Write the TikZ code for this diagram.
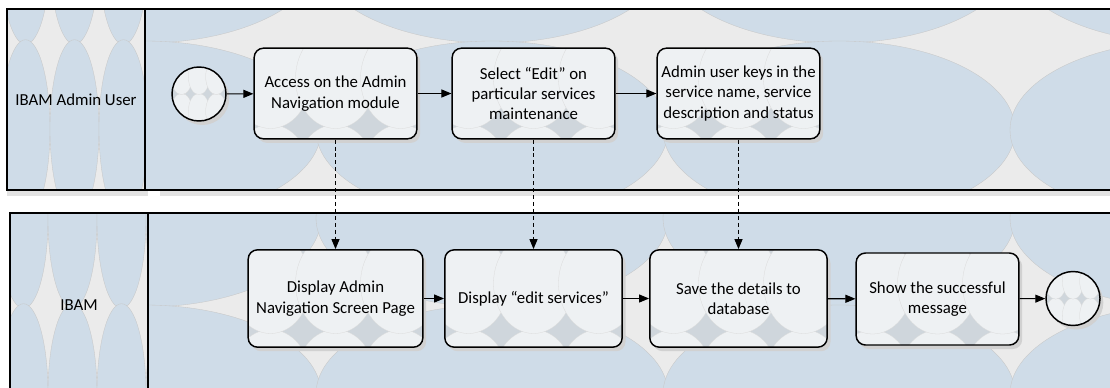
\documentclass[tikz,border=0pt]{standalone}
\usepackage{fontspec}
\setmainfont{Carlito}
\usetikzlibrary{arrows.meta,shadows,positioning}
\definecolor{laneblue}{RGB}{207,220,232}
\definecolor{lanegray}{RGB}{235,235,235}
\definecolor{laneshadow}{RGB}{226,226,226}
\definecolor{boxwhite}{RGB}{238,241,243}
\definecolor{boxstar}{RGB}{207,214,220}
\tikzset {
  >={Triangle[length=7.5pt,width=6pt]},
  every node/.style={font=\fontsize{12.6}{15.2}\selectfont},
  lane/.style={draw=black,line width=1.1pt},
  bgell/.style={fill=laneblue,draw=black!22,line width=0.25pt},
  boxpat/.style={path picture={
    \fill[boxstar] (path picture bounding box.south west) rectangle (path picture bounding box.north east);
    \foreach \k in {-3,...,3}
      \foreach \r in {-1,0,1}
        \filldraw[fill=boxwhite,draw=black!15,line width=0.2pt]
          ([xshift={\k*48.75pt},yshift={\r*72pt+11.25pt}]path picture bounding box.center)
          ellipse[x radius=30pt,y radius=37.5pt];
  }},
  eventpat/.style={path picture={
    \fill[boxstar] (path picture bounding box.south west) rectangle (path picture bounding box.north east);
    \foreach \k in {-2,...,2}
      \foreach \r in {-1,0,1}
        \filldraw[fill=boxwhite,draw=black!15,line width=0.2pt]
          ([xshift={\k*13pt},yshift={\r*26pt+13pt}]path picture bounding box.center)
          ellipse[x radius=8pt,y radius=13.5pt];
  }},
  boxshadow/.style={drop shadow={shadow xshift=2.5pt,shadow yshift=-3pt,fill=black!18,opacity=1}},
  task/.style={boxpat,boxshadow,draw,line width=1.1pt,rounded corners=7pt,align=center,
    minimum width=122pt,minimum height=68pt,inner sep=2pt},
  event/.style={circle,eventpat,boxshadow,draw,line width=1.1pt,minimum size=40.5pt,inner sep=0pt},
  flow/.style={->,line width=0.8pt},
  msg/.style={->,line width=0.9pt,dash pattern=on 3pt off 2.2pt},
}

\begin{document}
\begin{tikzpicture}[x=0.75pt,y=-0.75pt]
  \useasboundingbox (0,0) rectangle (1110,387);
  \clip (0,0) rectangle (1110,387);
  % shadows of the lanes
  \fill[laneshadow] (7,15) rectangle (148,196);
  \fill[laneshadow] (160,15) rectangle (1116,196);
  \fill[laneshadow] (10,219) rectangle (151,392);
  \fill[laneshadow] (163,219) rectangle (1116,392);
  % lane backgrounds
  \begin{scope}
    \clip (7,9) rectangle (145,190);
    \fill[lanegray] (7,9) rectangle (145,190);
    \foreach \cx in {-23.5,25.5,74.5,123.5,172.5}
      \foreach \cy in {-45,129,303}
        \filldraw[bgell] (\cx,\cy) ellipse[x radius=24.5,y radius=89.3];
  \end{scope}
  \begin{scope}
    \clip (145,9) rectangle (1116,190);
    \fill[lanegray] (145,9) rectangle (1116,190);
    \foreach \cx in {145,492,839,1186}
      \foreach \cy in {-46,130,306}
        \filldraw[bgell] (\cx,\cy) ellipse[x radius=176,y radius=89];
  \end{scope}
  \begin{scope}
    \clip (10,213) rectangle (148,392);
    \fill[lanegray] (10,213) rectangle (148,392);
    \foreach \cx in {-25.5,23.5,72.5,121.5,170.5}
      \foreach \cy in {45,219,393}
        \filldraw[bgell] (\cx,\cy) ellipse[x radius=24.5,y radius=89.3];
  \end{scope}
  \begin{scope}
    \clip (148,213) rectangle (1116,392);
    \fill[lanegray] (148,213) rectangle (1116,392);
    \foreach \cx in {145,492,839,1186}
      \foreach \cy in {42,218,394}
        \filldraw[bgell] (\cx,\cy) ellipse[x radius=176,y radius=89];
  \end{scope}
  \draw[lane] (7,9) rectangle (145,190);
  \draw[lane] (145,9) rectangle (1116,190);
  \draw[lane] (10,213) rectangle (148,392);
  \draw[lane] (148,213) rectangle (1116,392);
  \node (admin) at (76,100) {IBAM Admin User};
  \node (ibam) at (79,305) {IBAM};
  % admin user lane
  \node[event] (start) at (199,94) {};
  \node[task] (t1) at (335.5,93.5) {Access on the Admin\\Navigation module};
  \node[task] (t2) at (533.5,93.5) {Select “Edit” on\\particular services\\maintenance};
  \node[task] (t3) at (738.5,93.5) {Admin user keys in the\\service name, service\\description and status};
  % system lane
  \node[task,minimum width=131pt,minimum height=73pt] (t4) at (335.5,298.5) {Display Admin\\Navigation Screen Page};
  \node[task,minimum width=133pt,minimum height=73pt] (t5) at (533.5,298.5) {Display “edit services”};
  \node[task,minimum width=133pt,minimum height=73pt] (t6) at (738.5,298.5) {Save the details to\\database};
  \node[task,minimum height=69pt] (t7) at (937.5,299) {Show the successful\\message};
  \node[event] (finish) at (1073,298.5) {};
  \draw[flow] (start) -- (t1);
  \draw[flow] (t1) -- (t2);
  \draw[flow] (t2) -- (t3);
  \draw[flow] (t4) -- (t5);
  \draw[flow] (t5) -- (t6);
  \draw[flow] (t6) -- (t7);
  \draw[flow] (t7) -- (finish);
  \draw[msg] (t1) -- (t4);
  \draw[msg] (t2) -- (t5);
  \draw[msg] (t3) -- (t6);
\end{tikzpicture}
\end{document}
